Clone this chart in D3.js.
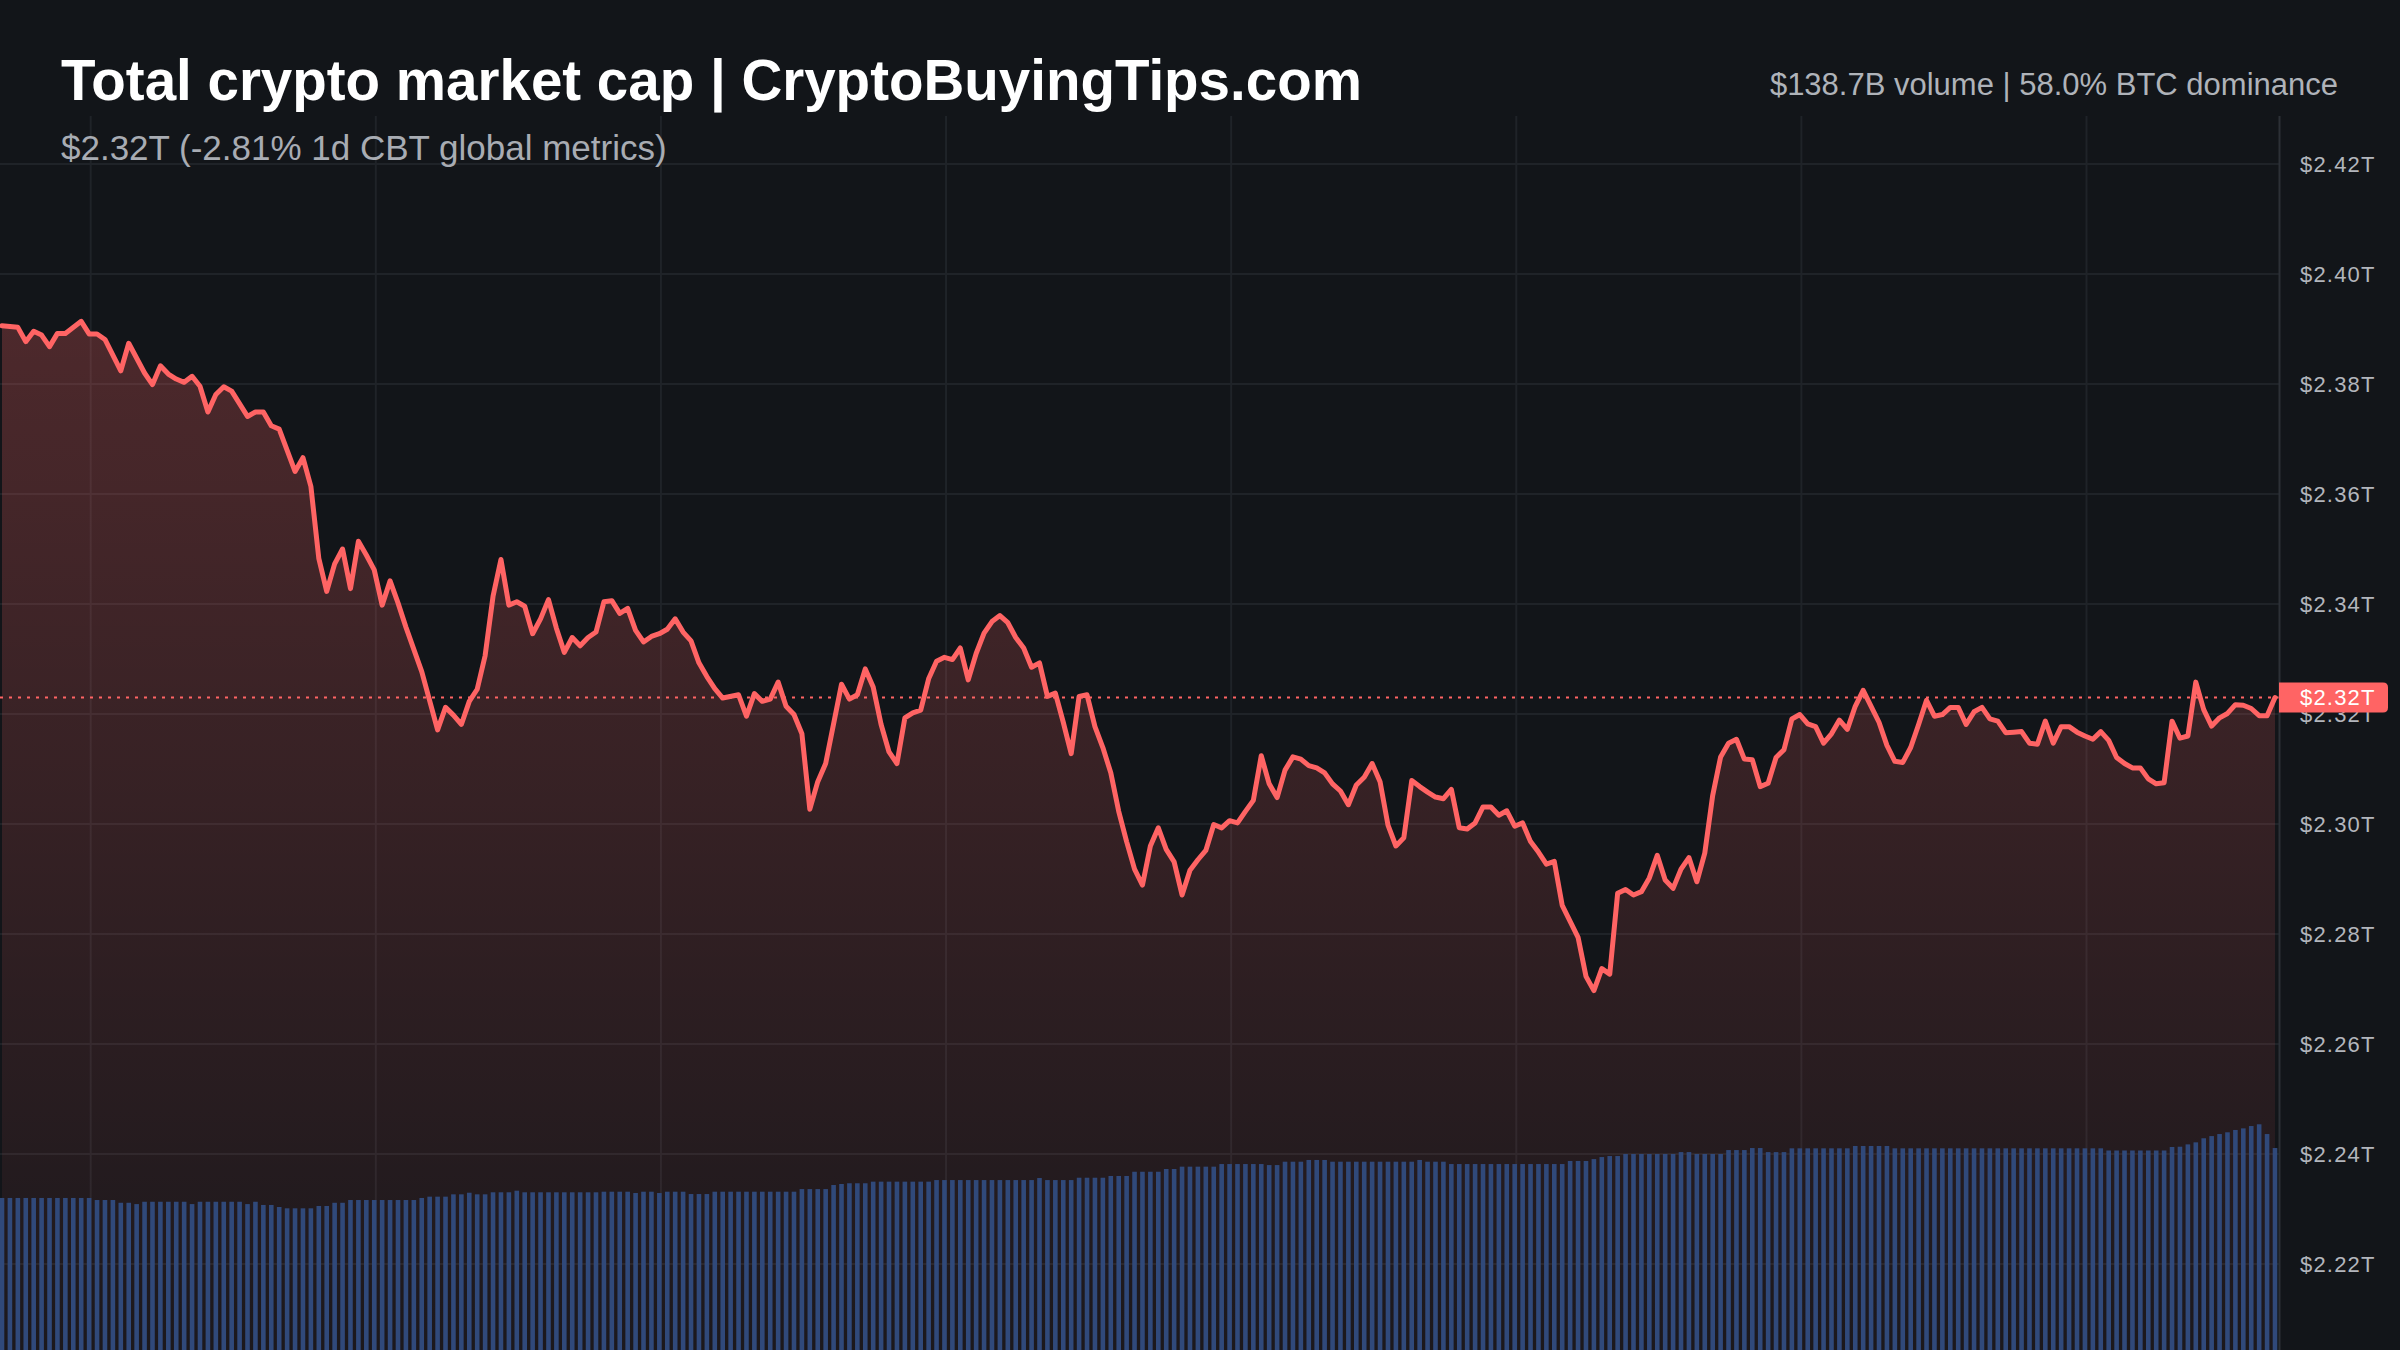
<!DOCTYPE html>
<html>
<head>
<meta charset="utf-8">
<script src="https://cdn.jsdelivr.net/npm/d3@7"></script>
<style>
  html, body { margin: 0; padding: 0; background: #121519; overflow: hidden; }
  svg { display: block; }
</style>
</head>
<body>
<div id="chart"></div>
<script>
// [5-minute step, market cap in $T]
const capPoints = [
  [0,2.3906],[2,2.3903],[3,2.3877],[4,2.3896],[5,2.3889],[6,2.3868],[7,2.3892],[8,2.3892],[10,2.3914],[11,2.3891],
  [12,2.3891],[13,2.3881],[15,2.3824],[16,2.3874],[18,2.3820],[19,2.3799],[20,2.3833],[21,2.3818],[22,2.3809],[23,2.3803],
  [24,2.3814],[25,2.3796],[26,2.3749],[27,2.3781],[28,2.3795],[29,2.3787],[31,2.3741],[32,2.3749],[33,2.3749],[34,2.3724],
  [35,2.3718],[37,2.3641],[38,2.3666],[39,2.3614],[40,2.3483],[41,2.3423],[42,2.3473],[43,2.3500],[44,2.3428],[45,2.3514],
  [46,2.3489],[47,2.3462],[48,2.3398],[49,2.3442],[50,2.3402],[51,2.3358],[53,2.3277],[55,2.3171],[56,2.3212],[57,2.3198],
  [58,2.3181],[59,2.3223],[60,2.3245],[61,2.3306],[62,2.3414],[63,2.3481],[64,2.3398],[65,2.3404],[66,2.3396],[67,2.3346],
  [68,2.3373],[69,2.3408],[70,2.3356],[71,2.3312],[72,2.3339],[73,2.3324],[74,2.3339],[75,2.3349],[76,2.3404],[77,2.3406],
  [78,2.3383],[79,2.3392],[80,2.3352],[81,2.3331],[82,2.3341],[83,2.3346],[84,2.3354],[85,2.3373],[86,2.3349],[87,2.3333],
  [88,2.3293],[89,2.3268],[90,2.3246],[91,2.3229],[93,2.3235],[94,2.3196],[95,2.3237],[96,2.3223],[97,2.3227],[98,2.3258],
  [99,2.3214],[100,2.3199],[101,2.3164],[102,2.3027],[103,2.3077],[104,2.3110],[106,2.3254],[107,2.3227],[108,2.3235],[109,2.3282],
  [110,2.3249],[111,2.3181],[112,2.3131],[113,2.3110],[114,2.3193],[115,2.3202],[116,2.3207],[117,2.3264],[118,2.3296],[119,2.3303],
  [120,2.3299],[121,2.3320],[122,2.3262],[123,2.3310],[124,2.3347],[125,2.3368],[126,2.3379],[127,2.3366],[128,2.3339],[129,2.3320],
  [130,2.3285],[131,2.3293],[132,2.3232],[133,2.3238],[134,2.3185],[135,2.3128],[136,2.3232],[137,2.3235],[138,2.3177],[139,2.3139],
  [140,2.3093],[141,2.3023],[142,2.2968],[143,2.2918],[144,2.2889],[145,2.2960],[146,2.2993],[147,2.2954],[148,2.2931],[149,2.2871],
  [150,2.2916],[151,2.2935],[152,2.2952],[153,2.2999],[154,2.2993],[155,2.3006],[156,2.3002],[157,2.3023],[158,2.3043],[159,2.3124],
  [160,2.3073],[161,2.3048],[162,2.3098],[163,2.3122],[164,2.3118],[165,2.3106],[166,2.3102],[167,2.3093],[168,2.3073],[169,2.3060],
  [170,2.3035],[171,2.3071],[172,2.3085],[173,2.3110],[174,2.3077],[175,2.2998],[176,2.2960],[177,2.2975],[178,2.3079],[179,2.3068],
  [180,2.3058],[181,2.3049],[182,2.3046],[183,2.3063],[184,2.2993],[185,2.2991],[186,2.3002],[187,2.3031],[188,2.3031],[189,2.3016],
  [190,2.3024],[191,2.2996],[192,2.3002],[193,2.2968],[194,2.2949],[195,2.2927],[196,2.2932],[197,2.2852],[198,2.2823],[199,2.2794],
  [200,2.2723],[201,2.2697],[202,2.2737],[203,2.2727],[204,2.2874],[205,2.2881],[206,2.2871],[207,2.2877],[208,2.2902],[209,2.2943],
  [210,2.2898],[211,2.2883],[212,2.2918],[213,2.2939],[214,2.2895],[215,2.2947],[216,2.3052],[217,2.3122],[218,2.3147],[219,2.3154],
  [220,2.3118],[221,2.3117],[222,2.3068],[223,2.3074],[224,2.3121],[225,2.3135],[226,2.3191],[227,2.3199],[228,2.3182],[229,2.3177],
  [230,2.3147],[231,2.3164],[232,2.3189],[233,2.3172],[234,2.3214],[235,2.3243],[236,2.3214],[237,2.3185],[238,2.3143],[239,2.3114],
  [240,2.3112],[241,2.3139],[242,2.3181],[243,2.3225],[244,2.3196],[245,2.3199],[246,2.3212],[247,2.3212],[248,2.3181],[249,2.3204],
  [250,2.3212],[251,2.3191],[252,2.3187],[253,2.3166],[254,2.3167],[255,2.3168],[256,2.3147],[257,2.3145],[258,2.3187],[259,2.3147],
  [260,2.3177],[261,2.3177],[262,2.3167],[263,2.3160],[264,2.3154],[265,2.3168],[266,2.3152],[267,2.3121],[268,2.3110],[269,2.3102],
  [270,2.3102],[271,2.3082],[272,2.3073],[273,2.3075],[274,2.3187],[275,2.3156],[276,2.3160],[277,2.3258],[278,2.3208],[279,2.3178],
  [280,2.3193],[281,2.3201],[282,2.3217],[283,2.3216],[284,2.3210],[285,2.3197],[286,2.3197],[287,2.3230]
];

// rolling 24h volume per 5-minute bar, $B
const volumes = [
  104.4,104.4,104.4,104.4,104.4,104.4,104.4,104.4,104.4,104.4,104.4,104.4,
  103.0,103.0,103.0,101.1,101.1,100.2,
  101.8,101.8,101.8,101.8,101.8,101.8,100.2,
  101.8,101.8,101.8,101.8,101.8,101.8,100.2,101.8,
  99.6,99.6,98.2,97.3,97.3,97.3,97.3,98.9,98.9,101.1,101.1,
  103.0,103.0,103.0,103.0,103.0,103.0,103.0,103.0,103.0,104.4,
  105.3,105.3,105.3,106.9,106.9,108.0,106.9,106.9,
  108.3,108.3,108.3,109.4,108.3,108.3,108.3,108.3,108.3,108.3,108.3,108.3,108.3,108.3,
  108.7,108.7,108.7,108.7,107.8,108.7,108.7,107.8,108.7,108.7,108.7,
  107.1,107.1,107.1,
  108.7,108.7,108.7,108.7,108.7,108.7,108.7,108.7,108.7,108.7,108.7,
  110.5,110.5,110.5,110.5,113.3,114.0,114.5,114.5,114.5,
  115.6,115.6,115.6,115.6,115.6,115.6,115.6,115.6,
  116.7,116.7,116.7,116.7,116.7,116.7,116.7,116.7,116.7,116.7,116.7,116.7,116.7,118.1,
  116.7,116.7,116.7,116.7,118.3,118.3,118.3,118.3,119.5,119.5,119.5,
  122.4,122.4,122.4,122.4,124.3,124.3,125.9,125.9,125.9,125.9,125.9,
  127.7,127.7,127.7,127.7,127.7,127.7,127.0,127.0,129.3,129.3,129.3,130.5,130.5,130.5,
  129.3,129.3,129.3,129.3,129.3,129.3,129.3,129.3,129.3,129.3,129.3,130.5,129.3,129.3,129.3,
  127.7,127.7,127.7,127.7,127.7,127.7,127.7,127.7,127.7,127.7,127.7,127.7,127.7,127.7,127.7,
  129.8,129.8,129.8,131.1,132.5,133.2,133.2,
  134.6,134.6,134.6,134.6,134.6,134.6,134.6,135.9,135.9,134.6,134.6,134.6,134.6,
  137.3,137.3,137.3,138.7,138.7,135.9,135.9,135.9,
  138.5,138.5,138.5,138.5,138.5,138.5,138.5,138.5,140.1,140.1,140.1,140.1,140.1,
  138.5,138.5,138.5,138.5,138.5,138.5,138.5,138.5,138.5,138.5,138.5,138.5,138.5,138.5,
  138.5,138.5,138.5,138.5,138.5,138.5,138.5,138.5,138.5,138.5,138.5,138.5,138.5,
  137.0,137.0,137.0,137.0,137.0,137.0,137.0,137.0,
  139.4,139.6,141.2,142.6,145.4,146.9,148.3,149.5,151.1,152.2,153.8,155.0,148.3,138.7
];

const yTicks = [2.22, 2.24, 2.26, 2.28, 2.30, 2.32, 2.34, 2.36, 2.38, 2.40, 2.42];

const titleText = "Total crypto market cap | CryptoBuyingTips.com";
const subtitleText = "$2.32T (-2.81% 1d CBT global metrics)";
const statsText = "$138.7B volume | 58.0% BTC dominance";

const startTime = new Date(2024, 4, 1, 14, 4);
const stepMs = 5 * 60 * 1000;
const stepTime = s => new Date(startTime.getTime() + s * stepMs);

var width = 2400, height = 1350;
var plotRight = 2279, plotTop = 116;
var red = "#ff6464";
var font = "'Liberation Sans', Arial, Helvetica, sans-serif";
var fmt = v => "$" + d3.format(".2f")(v) + "T";

var x = d3.scaleTime()
    .domain([startTime, stepTime(volumes.length - 1)])
    .range([2, 2275]);

var y = d3.scaleLinear()
    .domain([2.22, 2.42])
    .range([1264, 164]);

var yVol = d3.scaleLinear()
    .domain([0, 160])
    .range([height, height - 233]);

var svg = d3.select("#chart").append("svg")
    .attr("width", width)
    .attr("height", height)
    .style("background", "#121519");

var defs = svg.append("defs");
var grad = defs.append("linearGradient")
    .attr("id", "areaFill")
    .attr("gradientUnits", "userSpaceOnUse")
    .attr("x1", 0).attr("x2", 0)
    .attr("y1", y(d3.max(capPoints, d => d[1])))
    .attr("y2", height);
grad.append("stop").attr("offset", "0%").attr("stop-color", red).attr("stop-opacity", 0.25);
grad.append("stop").attr("offset", "100%").attr("stop-color", red).attr("stop-opacity", 0.04);

defs.append("clipPath").attr("id", "plotClip")
    .append("rect").attr("x", 0).attr("y", plotTop).attr("width", plotRight).attr("height", height - plotTop);

// grid
var grid = svg.append("g").attr("class", "grid");
grid.selectAll(".vgrid")
    .data(x.ticks(d3.timeHour.every(3)))
    .enter().append("line")
    .attr("x1", d => x(d)).attr("x2", d => x(d))
    .attr("y1", plotTop).attr("y2", height)
    .style("stroke", "#1f2328")
    .style("stroke-width", 2);

grid.selectAll(".hgrid")
    .data(yTicks)
    .enter().append("line")
    .attr("x1", 0).attr("x2", plotRight)
    .attr("y1", d => y(d)).attr("y2", d => y(d))
    .style("stroke", "#1f2328")
    .style("stroke-width", 2);

var plot = svg.append("g").attr("clip-path", "url(#plotClip)");

var area = d3.area()
    .x(d => x(stepTime(d[0])))
    .y0(height)
    .y1(d => y(d[1]));

plot.append("path")
    .datum(capPoints)
    .attr("d", area)
    .style("fill", "url(#areaFill)");

// volume bars
var barW = 4.6;
plot.selectAll(".vol")
    .data(volumes)
    .enter().append("rect")
    .attr("class", "vol")
    .attr("x", (d, i) => x(stepTime(i)) - barW / 2)
    .attr("y", d => yVol(d))
    .attr("width", barW)
    .attr("height", d => height - yVol(d))
    .style("fill", "#30497a");

var last = capPoints[capPoints.length - 1][1];

plot.append("line")
    .attr("x1", 0).attr("x2", plotRight)
    .attr("y1", y(last)).attr("y2", y(last))
    .style("stroke", red)
    .style("stroke-width", 2)
    .style("stroke-dasharray", "3,6");

var line = d3.line()
    .x(d => x(stepTime(d[0])))
    .y(d => y(d[1]));

plot.append("path")
    .datum(capPoints)
    .attr("d", line)
    .style("fill", "none")
    .style("stroke", red)
    .style("stroke-width", 5)
    .style("stroke-linejoin", "round")
    .style("stroke-linecap", "round");

// right axis
svg.append("line")
    .attr("x1", plotRight + 0.5).attr("x2", plotRight + 0.5)
    .attr("y1", plotTop).attr("y2", height)
    .style("stroke", "#2c3036")
    .style("stroke-width", 2);

svg.append("g").selectAll(".ylab")
    .data(yTicks)
    .enter().append("text")
    .attr("x", 2300)
    .attr("y", d => y(d))
    .attr("dy", "0.36em")
    .style("font-family", font)
    .style("font-size", "22px")
    .style("letter-spacing", "1.2px")
    .style("fill", "#b3b6bc")
    .text(fmt);

var tag = svg.append("g").attr("transform", "translate(" + plotRight + "," + y(last) + ")");
tag.append("path")
    .attr("d", "M0,-15 H104 Q109,-15 109,-10 V10 Q109,15 104,15 H0 Z")
    .style("fill", red);
tag.append("text")
    .attr("x", 21)
    .attr("dy", "0.36em")
    .style("font-family", font)
    .style("font-size", "22px")
    .style("letter-spacing", "1.2px")
    .style("fill", "#ffffff")
    .text(fmt(last));

// header texts
svg.append("text")
    .attr("x", 61).attr("y", 100)
    .style("font-family", font)
    .style("font-weight", "bold")
    .style("font-size", "56.5px")
    .style("fill", "#ffffff")
    .text(titleText);

svg.append("text")
    .attr("x", 61).attr("y", 160)
    .style("font-family", font)
    .style("font-size", "35px")
    .style("fill", "#a8acb3")
    .text(subtitleText);

svg.append("text")
    .attr("x", 2338).attr("y", 95)
    .attr("text-anchor", "end")
    .style("font-family", font)
    .style("font-size", "31px")
    .style("fill", "#afb3b9")
    .text(statsText);
</script>
</body>
</html>
